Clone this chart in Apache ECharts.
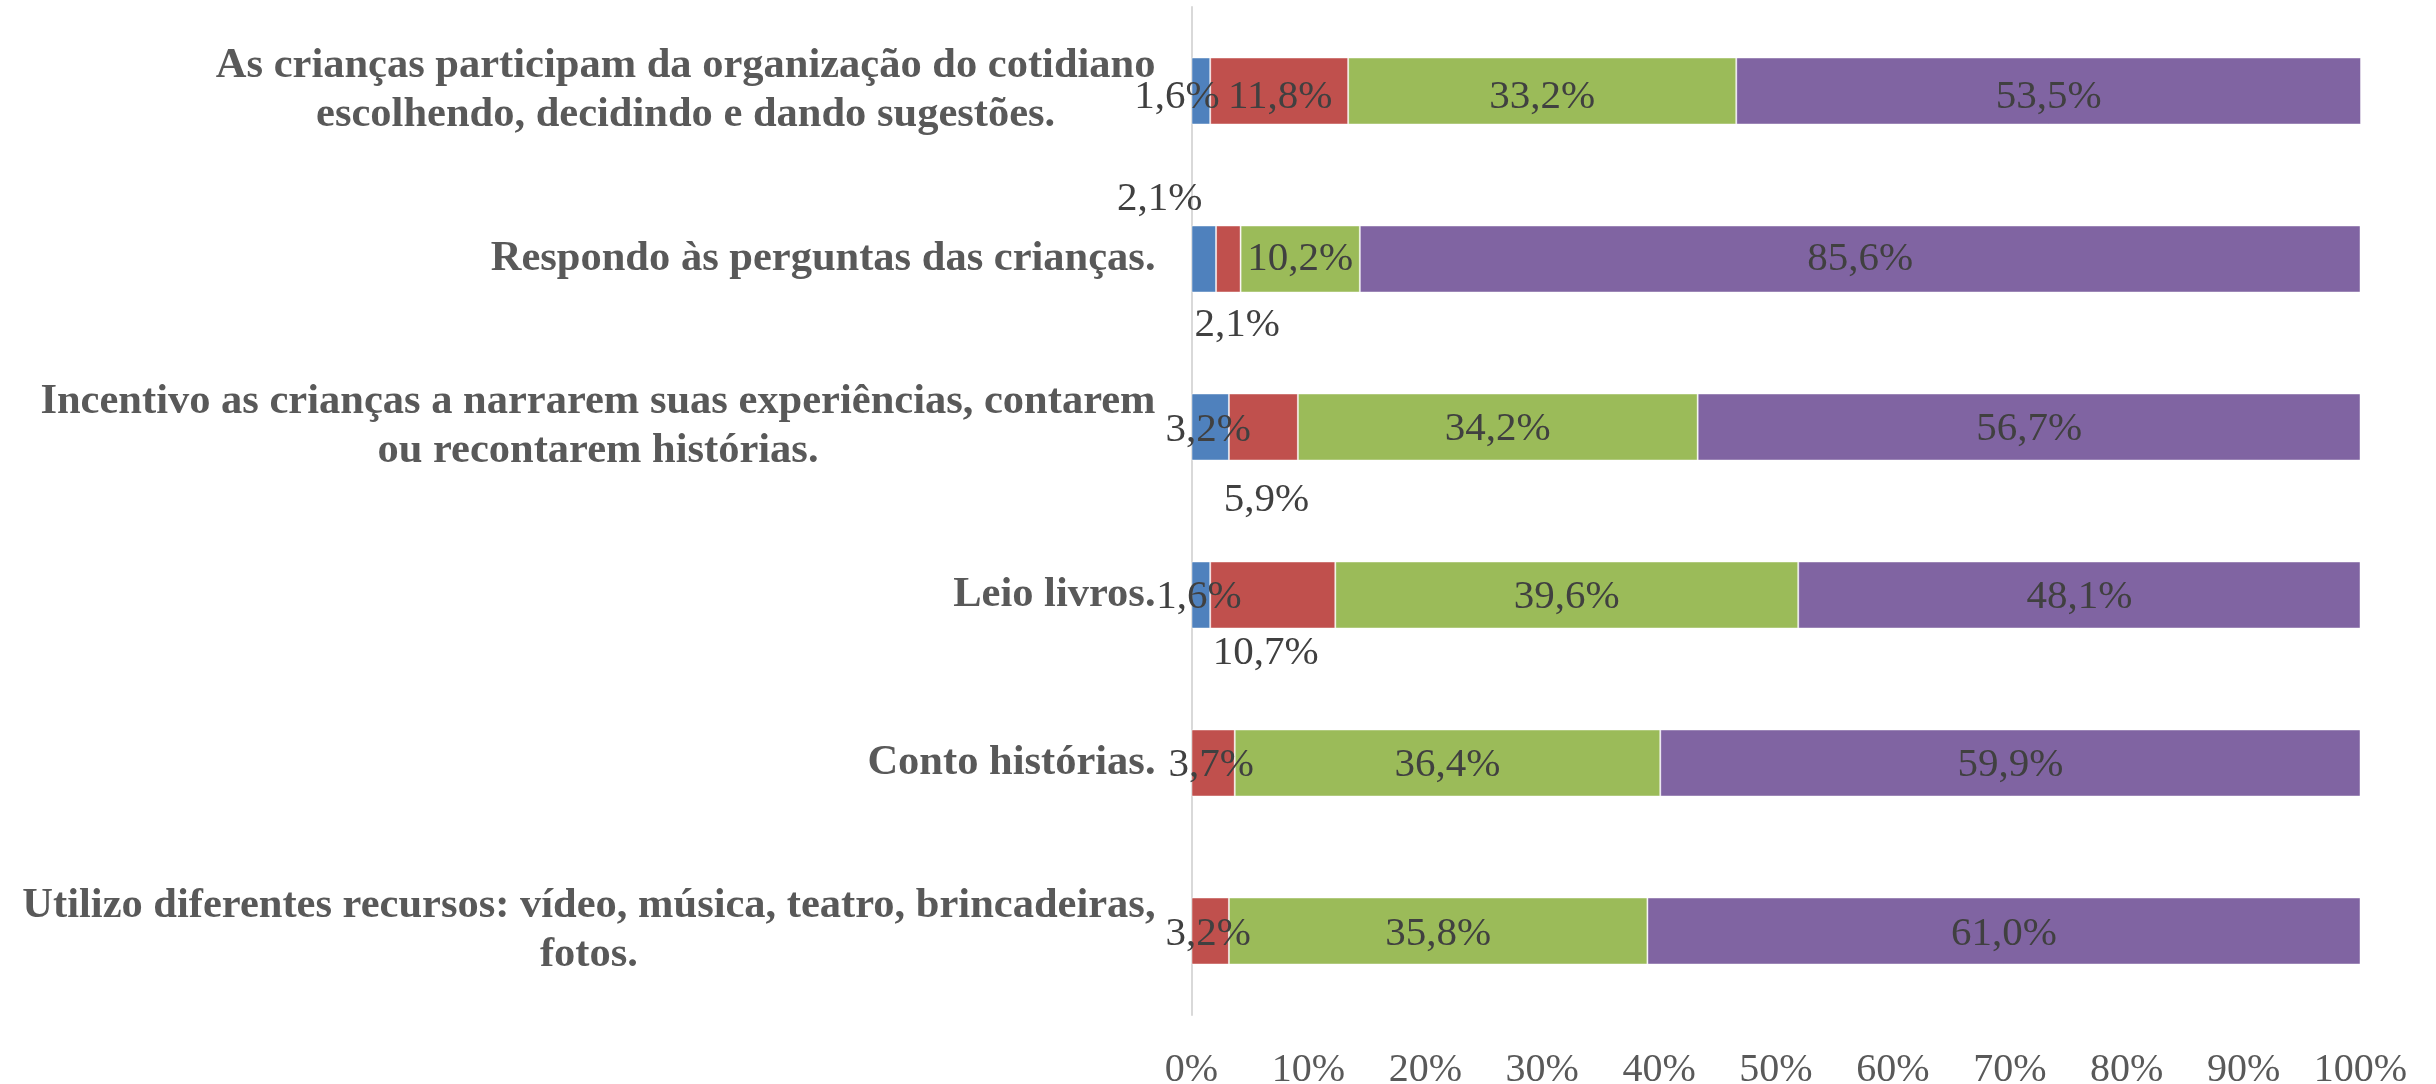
<!DOCTYPE html>
<html>
<head>
<meta charset="utf-8">
<script src="https://cdn.jsdelivr.net/npm/echarts@6/dist/echarts.min.js"></script>
<style>
  html, body { margin: 0; padding: 0; background: #ffffff; }
  #chart { width: 2436px; height: 1084px; }
</style>
</head>
<body>
<div id="chart"></div>
<script>
// Practices listed top to bottom
const categories = [
  'As crianças participam da organização do cotidiano\nescolhendo, decidindo e dando sugestões.',
  'Respondo às perguntas das crianças.',
  'Incentivo as crianças a narrarem suas experiências, contarem\nou recontarem histórias.',
  'Leio livros.',
  'Conto histórias.',
  'Utilizo diferentes recursos: vídeo, música, teatro, brincadeiras,\nfotos.'
];

// Percentages per answer level (stacked left to right)
const level1 = [1.6, 2.1, 3.2, 1.6, null, null];
const level2 = [11.8, 2.1, 5.9, 10.7, 3.7, 3.2];
const level3 = [33.2, 10.2, 34.2, 39.6, 36.4, 35.8];
const level4 = [53.5, 85.6, 56.7, 48.1, 59.9, 61.0];

const xTicks = [0, 10, 20, 30, 40, 50, 60, 70, 80, 90, 100];

// Hand-placed label nudges [dx, dy] for narrow segments
const labelNudge = {
  level1: [[-24, 6], [-44, -60], [-2, 3], [-2, 2], null, null],
  level2: [[1, 6], [9, 66], [3, 73], [-7, 58], [-2, 2], [-2, 3]],
  level3: [[0, 6], [0, 0], [0, 2], [0, 2], [0, 2], [0, 3]],
  level4: [[0, 6], [0, 0], [0, 2], [0, 2], [0, 2], [0, 3]]
};

const colors = ['#4F81BD', '#C0504D', '#9BBB59', '#8064A2'];
const serif = "'Liberation Serif', 'Times New Roman', serif";

function fmt(v) {
  return v.toFixed(1).replace('.', ',') + '%';
}

function buildSeries(name, values, color) {
  return {
    name: name,
    type: 'bar',
    stack: 'total',
    barWidth: 67,
    itemStyle: { color: color, borderColor: 'rgba(255,255,255,0.45)', borderWidth: 1 },
    label: {
      show: true,
      position: 'inside',
      color: '#404040',
      fontFamily: serif,
      fontSize: 41,
      formatter: p => (p.value == null ? '' : fmt(p.value))
    },
    data: values.map((v, i) => {
      const n = labelNudge[name][i];
      return n ? { value: v, label: { offset: n } } : { value: v };
    })
  };
}

const chart = echarts.init(document.getElementById('chart'), null, { renderer: 'canvas' });
chart.setOption({
  animation: false,
  backgroundColor: '#ffffff',
  grid: {
    left: 1191.5, right: 75.5, top: 7, bottom: 69,
    containLabel: false,
    outerBoundsMode: 'none'
  },
  xAxis: {
    type: 'value',
    min: 0,
    max: 100,
    interval: 10,
    axisLine: { show: false },
    axisTick: { show: false },
    splitLine: { show: false },
    axisLabel: {
      margin: 35,
      color: '#595959',
      fontFamily: serif,
      fontSize: 40,
      formatter: v => (xTicks.indexOf(v) >= 0 ? v + '%' : '')
    }
  },
  yAxis: {
    type: 'category',
    inverse: true,
    data: categories,
    axisLine: { show: true, lineStyle: { color: '#D9D9D9', width: 2 } },
    axisTick: { show: false },
    splitLine: { show: false },
    axisLabel: {
      margin: 36,
      align: 'right',
      formatter: v => v.split('\n').map(l => '{c|' + l + '}').join('\n'),
      rich: {
        c: {
          align: 'center',
          color: '#595959',
          fontFamily: serif,
          fontWeight: 'bold',
          fontSize: 42.5,
          lineHeight: 49
        }
      }
    }
  },
  series: [
    buildSeries('level1', level1, colors[0]),
    buildSeries('level2', level2, colors[1]),
    buildSeries('level3', level3, colors[2]),
    buildSeries('level4', level4, colors[3])
  ]
});
</script>
</body>
</html>
